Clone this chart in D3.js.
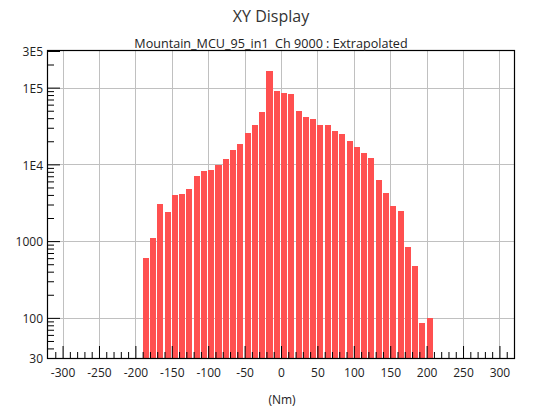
<!DOCTYPE html>
<html>
<head>
<meta charset="utf-8">
<script src="https://cdn.jsdelivr.net/npm/d3@7"></script>
<style>
  html, body { margin: 0; padding: 0; background: #fff; }
  svg { display: block; font-family: "Open Sans", "DejaVu Sans", sans-serif; }
</style>
</head>
<body>
<svg id="chart" width="542" height="416"></svg>
<script>
// ---- data ----
const titleText = "XY Display";
const subtitleText = "Mountain_MCU_95_in1  Ch 9000 : Extrapolated";
const xLabel = "(Nm)";
const binWidth = 10;
const binStarts = [-190, -180, -170, -160, -150, -140, -130, -120, -110, -100,
                   -90, -80, -70, -60, -50, -40, -30, -20, -10, 0,
                   10, 20, 30, 40, 50, 60, 70, 80, 90, 100,
                   110, 120, 130, 140, 150, 160, 170, 180, 190, 200];
const counts = [596, 1084, 3090, 2360, 3930, 4170, 4840, 7130, 8280, 8530,
                9900, 11900, 15500, 18600, 25800, 32800, 48400, 165000, 90600, 85300,
                82800, 49900, 41700, 39300, 32800, 32800, 27400, 25100, 20300, 17000,
                14200, 12200, 6310, 4290, 2910, 2500, 828, 469, 85, 99];
const xMajorTicks = [-300, -250, -200, -150, -100, -50, 0, 50, 100, 150, 200, 250, 300];
const xMinorTicks = [-310, -290, -280, -270, -260, -240, -230, -220, -210, -190, -180, -170, -160,
                     -140, -130, -120, -110, -90, -80, -70, -60, -40, -30, -20, -10,
                     10, 20, 30, 40, 60, 70, 80, 90, 110, 120, 130, 140, 160, 170, 180, 190,
                     210, 220, 230, 240, 260, 270, 280, 290, 310];
const yLabelTicks = [30, 100, 1000, 10000, 100000, 300000];
const yLabelText = ["30", "100", "1000", "1E4", "1E5", "3E5"];
const yGridTicks = [100, 1000, 10000, 100000];
const yMinorTicks = [40, 50, 60, 70, 80, 90,
                     200, 300, 400, 500, 600, 700, 800, 900,
                     2000, 3000, 4000, 5000, 6000, 7000, 8000, 9000,
                     20000, 30000, 40000, 50000, 60000, 70000, 80000, 90000,
                     200000];

// ---- layout ----
const L = 48, R = 514, T = 51, B = 358;
const svg = d3.select("#chart");
const x = d3.scaleLinear().domain([-320, 320]).range([L, R]);
const y = d3.scaleLog().domain([30, 300000]).range([B, T]);
const textColor = "#222";

// gridlines
const grid = svg.append("g").attr("stroke", "#c0c0c0").attr("stroke-width", 1);
grid.selectAll("line.gx").data(xMajorTicks).join("line")
  .attr("x1", d => Math.round(x(d)) + 0.5).attr("x2", d => Math.round(x(d)) + 0.5)
  .attr("y1", T).attr("y2", B);
grid.selectAll("line.gy").data(yGridTicks).join("line")
  .attr("y1", d => Math.round(y(d)) + 0.5).attr("y2", d => Math.round(y(d)) + 0.5)
  .attr("x1", L).attr("x2", R);

// bars
svg.append("g").selectAll("rect").data(binStarts).join("rect")
  .attr("x", d => x(d))
  .attr("width", d => x(d + binWidth) - x(d) - 1.2)
  .attr("y", (d, i) => y(counts[i]))
  .attr("height", (d, i) => B - y(counts[i]))
  .attr("fill", "#ff5050")
  .attr("shape-rendering", "crispEdges");

// x axis
const xAxis = d3.axisBottom(x).tickValues(xMajorTicks).tickSizeInner(-12).tickSizeOuter(0).tickPadding(10)
  .tickFormat(d3.format("d"));
const gx = svg.append("g").attr("transform", `translate(0,${B})`).call(xAxis);
gx.select(".domain").remove();
gx.selectAll(".tick line").attr("stroke", "#000");
gx.selectAll(".tick text").attr("fill", textColor).style("font-size", "12px")
  .style("font-family", '"Open Sans", sans-serif').text(d => d < 0 ? "-" + Math.abs(d) : d);
const xMinor = d3.axisBottom(x).tickValues(xMinorTicks).tickSizeInner(-6).tickSizeOuter(0).tickFormat("");
const gxm = svg.append("g").attr("transform", `translate(0,${B})`).call(xMinor);
gxm.select(".domain").remove();
gxm.selectAll(".tick line").attr("stroke", "#000");

// y axis
const yAxis = d3.axisLeft(y).tickValues(yLabelTicks).tickSizeInner(-12).tickSizeOuter(0).tickPadding(5)
  .tickFormat((d, i) => yLabelText[i]);
const gy = svg.append("g").attr("transform", `translate(${L},0)`).call(yAxis);
gy.select(".domain").remove();
gy.selectAll(".tick line").attr("stroke", "#000");
gy.selectAll(".tick text").attr("fill", textColor).style("font-size", "12px")
  .style("font-family", '"Open Sans", sans-serif').attr("dy", "0.4em");
const yMinor = d3.axisLeft(y).tickValues(yMinorTicks).tickSizeInner(-6).tickSizeOuter(0).tickFormat("");
const gym = svg.append("g").attr("transform", `translate(${L},0)`).call(yMinor);
gym.select(".domain").remove();
gym.selectAll(".tick line").attr("stroke", "#000");

// frame
svg.append("rect").attr("x", L - 0.5).attr("y", T - 0.5).attr("width", R - L + 1).attr("height", B - T + 1)
  .attr("fill", "none").attr("stroke", "#000").attr("stroke-width", 1.2);

// titles
svg.append("text").attr("x", 271).attr("y", 22).attr("text-anchor", "middle")
  .attr("fill", "#333").style("font-size", "16px").text(titleText);
svg.append("text").attr("x", 271).attr("y", 47.5).attr("text-anchor", "middle")
  .attr("fill", textColor).style("font-size", "12.6px").style("white-space", "pre").text(subtitleText);
svg.append("text").attr("x", 282).attr("y", 404).attr("text-anchor", "middle")
  .attr("fill", textColor).style("font-size", "12px").text(xLabel);
</script>
</body>
</html>
